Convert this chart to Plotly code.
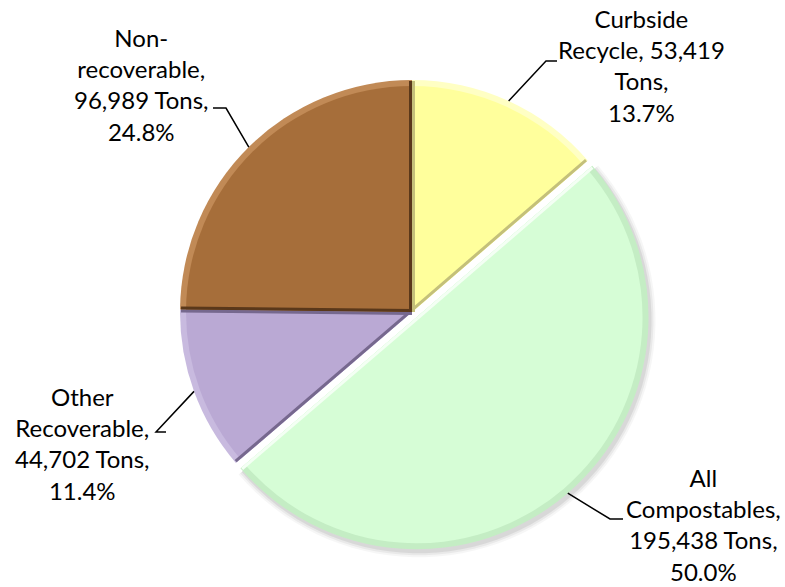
import math
import plotly.graph_objects as go

# Waste stream composition (tons)
categories = ["Curbside Recycle", "All Compostables", "Other Recoverable", "Non-recoverable"]
tons = [53419, 195438, 44702, 96989]
label_templates = [
    "Curbside<br>Recycle, {v}<br>Tons,<br>{p}",
    "All<br>Compostables,<br>{v} Tons,<br>{p}",
    "Other<br>Recoverable,<br>{v} Tons,<br>{p}",
    "Non-<br>recoverable,<br>{v} Tons,<br>{p}",
]
colors = ["#FFFF9C", "#D6FDD6", "#BAA9D4", "#A66E3A"]
rim_colors = ["#FFFFC4", "#C4EDC4", "#C8BADF", "#C18A56"]
edge_colors = ["#C4C07A", "#F4FFF4", "#76688E", "#5A381A"]
pulls = [0, 0.03, 0, 0]

W, H = 785, 587
CX, CY, R = 412, 312, 232          # pie centre and radius in pixels
BEVEL = 6                          # width of the rim band

def px(x):
    return x / W

def py(y):
    return 1 - y / H

def pie_domain(radius, pull_max):
    # plotly shrinks the radius by (1 + max pull) inside its domain box
    half = radius * (1 + pull_max)
    return dict(x=[px(CX - half), px(CX + half)], y=[py(CY + half), py(CY - half)])

# label block centres and elbow points of the leader lines (pixels)
label_pos = [(641, 66), (703, 524), (82, 443), (141, 84)]
elbows = [((557, 61), (546, 61)), ((623, 519), (610, 519)),
          ((166, 432), (156, 432)), ((213, 108), (226, 108))]

total = sum(tons)
starts, mids, ends = [], [], []
acc = 0.0
for v in tons:
    frac = v / total
    starts.append(acc * 2 * math.pi)
    mids.append((acc + frac / 2) * 2 * math.pi)
    acc += frac
    ends.append(acc * 2 * math.pi)

def pt(i, rad, ang):
    off = R * pulls[i]
    cx = CX + off * math.sin(mids[i])
    cy = CY - off * math.cos(mids[i])
    return cx + rad * math.sin(ang), cy - rad * math.cos(ang)

shapes = []

# soft drop shadow behind the pulled-out slice
mi = 1
for grow, op in [(5, 0.035), (3, 0.05), (1, 0.07)]:
    pts = [pt(mi, 0, 0)]
    n = 60
    for k in range(n + 1):
        a = starts[mi] + (ends[mi] - starts[mi]) * k / n
        pts.append(pt(mi, R + grow, a))
    path = "M " + " L ".join(f"{px(x + 2)} {py(y + 3)}" for x, y in pts) + " Z"
    shapes.append(dict(type="path", xref="paper", yref="paper", path=path,
                       fillcolor="rgba(0,0,0,%g)" % op, line=dict(width=0),
                       layer="below"))

max_pull = max(pulls)
fig = go.Figure()
# outer disc supplies the bevelled rim band
fig.add_trace(go.Pie(
    labels=categories, values=tons, sort=False, direction="clockwise",
    rotation=0, pull=pulls, textinfo="none", hoverinfo="skip",
    marker=dict(colors=rim_colors, line=dict(width=0)),
    domain=pie_domain(R, max_pull), showlegend=False,
))
# inner disc with the face colours, pulled by the same pixel offset
R_in = R - BEVEL
pulls_in = [p * R / R_in for p in pulls]
fig.add_trace(go.Pie(
    labels=categories, values=tons, sort=False, direction="clockwise",
    rotation=0, pull=pulls_in, textinfo="none", hoverinfo="label+value+percent",
    marker=dict(colors=colors, line=dict(width=0)),
    domain=pie_domain(R_in, max(pulls_in)), showlegend=False,
))

# shaded straight edges of each slice, nudged inside their own slice
EW = 3
for i in range(len(tons)):
    for ang, side in ((starts[i], 1), (ends[i], -1)):
        # unit normal pointing into the slice (clockwise direction)
        nx = math.cos(ang) * side
        ny = math.sin(ang) * side
        x0, y0 = pt(i, 0, ang)
        x1, y1 = pt(i, R - 1, ang)
        d = EW / 2
        shapes.append(dict(type="line", xref="paper", yref="paper",
                           x0=px(x0 + nx * d), y0=py(y0 + ny * d),
                           x1=px(x1 + nx * d), y1=py(y1 + ny * d),
                           line=dict(color=edge_colors[i], width=EW)))

annotations = []
for i, v in enumerate(tons):
    pct = f"{v / total * 100:.1f}%"
    text = label_templates[i].format(v=f"{v:,}", p=pct)
    lx, ly = label_pos[i]
    annotations.append(dict(x=px(lx), y=py(ly), xref="paper", yref="paper",
                            text=text, showarrow=False, xanchor="center",
                            yanchor="middle", align="center",
                            font=dict(family="Lato", size=24, color="#000000")))
    # leader line from the slice rim at its mid-angle
    rx, ry = pt(i, R, mids[i])
    (ex, ey), (kx, ky) = elbows[i]
    path = f"M {px(rx)} {py(ry)} L {px(kx)} {py(ky)} L {px(ex)} {py(ey)}"
    shapes.append(dict(type="path", xref="paper", yref="paper", path=path,
                       line=dict(color="#000000", width=1.5)))

fig.update_layout(
    width=W, height=H, margin=dict(l=0, r=0, t=0, b=0),
    paper_bgcolor="white", plot_bgcolor="white",
    shapes=shapes, annotations=annotations,
)

fig.write_html("out.html")
